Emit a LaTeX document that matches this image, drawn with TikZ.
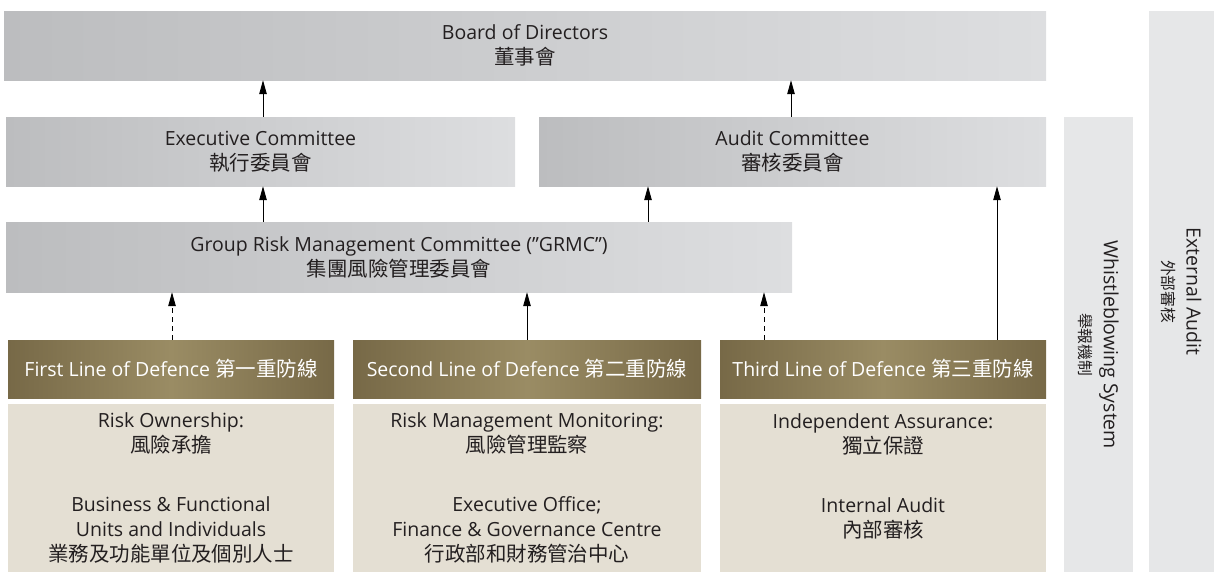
\documentclass[tikz,border=0pt]{standalone}
\usepackage{fontspec}
\setmainfont{Open Sans}
\newfontfamily\cjk[Scale=1.05]{Noto Sans CJK TC}
\usetikzlibrary{arrows.meta}
\definecolor{boardL}{HTML}{BCBDBF}
\definecolor{boardR}{HTML}{DDDEE0}
\definecolor{lodDark}{HTML}{776947}
\definecolor{lodLight}{HTML}{9A8C64}
\definecolor{cream}{HTML}{E4DFD3}
\definecolor{panel}{HTML}{E6E7E8}
\definecolor{txt}{HTML}{231F20}
\tikzset{
  basefont/.style={font=\fontsize{19.5}{25}\selectfont},
  greybox/.style={basefont, left color=boardL, right color=boardR, inner sep=0pt, align=center, text=txt},
  lodbox/.style={basefont, left color=lodDark, right color=lodDark, middle color=lodLight, inner sep=0pt, align=center, text=white},
  creambox/.style={basefont, fill=cream, inner sep=0pt, align=center, text=txt},
  sidepanel/.style={font=\fontsize{19.5}{24}\selectfont, fill=panel, inner sep=0pt, align=center, text=txt, rotate=-90},
  arr/.style={-{Triangle[length=14pt,width=7.5pt]}, line width=0.9pt, black},
  darr/.style={arr, dash pattern=on 5pt off 4pt},
}
\begin{document}
\begin{tikzpicture}[x=1pt,y=-1pt]
\useasboundingbox (0,0) rectangle (1214,579);
% side panels
\node[sidepanel, minimum width=561, minimum height=65] (ext) at (1181.5,291.5) {External Audit\\{\cjk\fontsize{15}{24}\selectfont 外部審核}};
\node[sidepanel, minimum width=455, minimum height=69] (whistle) at (1098.5,344.5) {Whistleblowing System\\{\cjk\fontsize{15}{24}\selectfont 舉報機制}};
% grey boxes
\node[greybox, minimum width=1042, minimum height=69] (board) at (525,45.5) {Board of Directors\\{\cjk 董事會}};
\node[greybox, minimum width=509, minimum height=69] (exec) at (260.5,151.5) {Executive Committee\\{\cjk 執行委員會}};
\node[greybox, minimum width=507, minimum height=69] (audit) at (792.5,151.5) {Audit Committee\\{\cjk 審核委員會}};
\node[greybox, minimum width=786, minimum height=70] (grmc) at (399,257) {Group Risk Management Committee (”GRMC”)\\{\cjk 集團風險管理委員會}};
% lines of defence
\node[lodbox, minimum width=326, minimum height=58] (first) at (171,369) {First Line of Defence {\cjk 第一重防線}};
\node[lodbox, minimum width=348, minimum height=58] (second) at (527,369) {Second Line of Defence {\cjk 第二重防線}};
\node[lodbox, minimum width=326, minimum height=58] (third) at (883,369) {Third Line of Defence {\cjk 第三重防線}};
% cream boxes
\node[creambox, minimum width=326, minimum height=168] (own) at (171,488) {Risk Ownership:\\{\cjk 風險承擔}\\[34pt]Business \& Functional\\Units and Individuals\\{\cjk 業務及功能單位及個別人士}};
\node[creambox, minimum width=348, minimum height=168] (mon) at (527,488) {Risk Management Monitoring:\\{\cjk 風險管理監察}\\[34pt]Executive Office;\\Finance \& Governance Centre\\{\cjk 行政部和財務管治中心}};
\node[creambox, minimum width=326, minimum height=168] (assur) at (883,488) {Independent Assurance:\\{\cjk 獨立保證}\\[34pt]Internal Audit\\{\cjk 內部審核}\\\mbox{}};
% arrow x positions
\coordinate (xa) at (263,0);
\coordinate (xb) at (791,0);
\coordinate (xc) at (648,0);
\coordinate (xd) at (172,0);
\coordinate (xe) at (527,0);
\coordinate (xf) at (764,0);
\coordinate (xg) at (997,0);
% arrows
\draw[arr] (xa |- exec.north) -- (xa |- board.south);
\draw[arr] (xb |- audit.north) -- (xb |- board.south);
\draw[arr] (xa |- grmc.north) -- (xa |- exec.south);
\draw[arr] (xc |- grmc.north) -- (xc |- audit.south);
\draw[darr] (xd |- first.north) -- (xd |- grmc.south);
\draw[arr] (xe |- second.north) -- (xe |- grmc.south);
\draw[darr] (xf |- third.north) -- (xf |- grmc.south);
\draw[arr] (xg |- third.north) -- (xg |- audit.south);
\end{tikzpicture}
\end{document}
